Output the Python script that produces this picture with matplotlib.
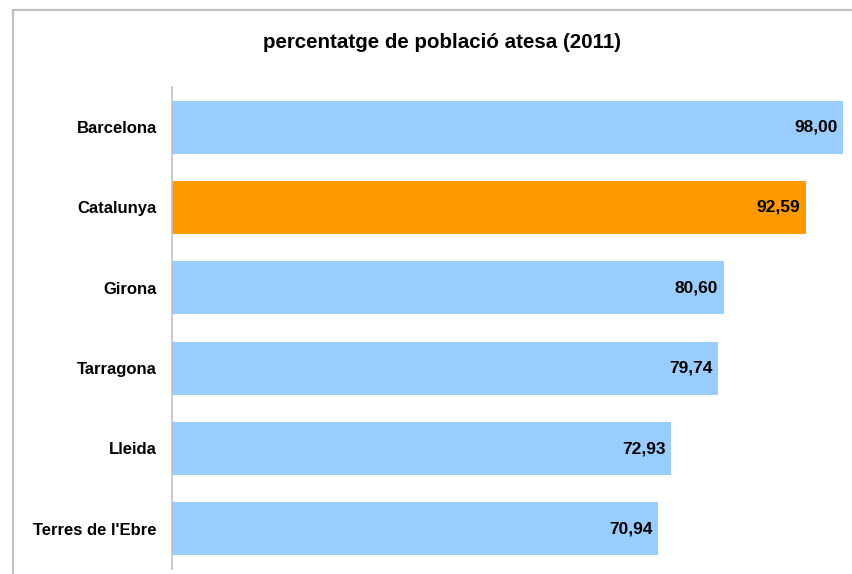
import matplotlib
matplotlib.use("Agg")
import matplotlib.pyplot as plt
from matplotlib.patches import Rectangle

regions = ["Barcelona", "Catalunya", "Girona", "Tarragona", "Lleida", "Terres de l'Ebre"]
values = [98.00, 92.59, 80.60, 79.74, 72.93, 70.94]
colors = ["#99ccff", "#ff9900", "#99ccff", "#99ccff", "#99ccff", "#99ccff"]
title = "percentatge de població atesa (2011)"

plt.rcParams["font.family"] = ["Liberation Sans", "DejaVu Sans"]

W, H = 852, 574
fig = plt.figure(figsize=(W / 100, H / 100), dpi=100)
# outer chart-area frame (runs off the right and bottom edges)
fig.patches.append(Rectangle((13 / W, -0.1), 1.2, 1 - 10 / H + 0.1, transform=fig.transFigure,
                             fill=False, ec="#c0c0c0", lw=1.6))

ax = fig.add_axes([172 / W, 1 - 569 / H, (843 - 172) / W, (569 - 87) / H])
y = range(len(regions))
ax.barh(y, values, height=0.66, color=colors)
ax.set_xlim(0, 98)
ax.set_ylim(len(regions) - 0.5, -0.5)
ax.set_yticks(list(y))
ax.set_yticklabels(regions, fontsize=12, fontweight="bold")
ax.tick_params(axis="y", length=0, pad=11)
ax.set_xticks([])
for s in ("top", "right", "bottom"):
    ax.spines[s].set_visible(False)
ax.spines["left"].set_color("#c0c0c0")
ax.spines["left"].set_linewidth(1.2)

for i, v in enumerate(values):
    ax.annotate(f"{v:.2f}".replace(".", ","), (v, i), xytext=(-4, 0), textcoords="offset points",
                ha="right", va="center", fontsize=12.5, fontweight="bold")

fig.text(442 / W, 1 - 43 / H, title, ha="center", va="center", fontsize=14.8, fontweight="bold")

fig.savefig("out.png", dpi=100)
